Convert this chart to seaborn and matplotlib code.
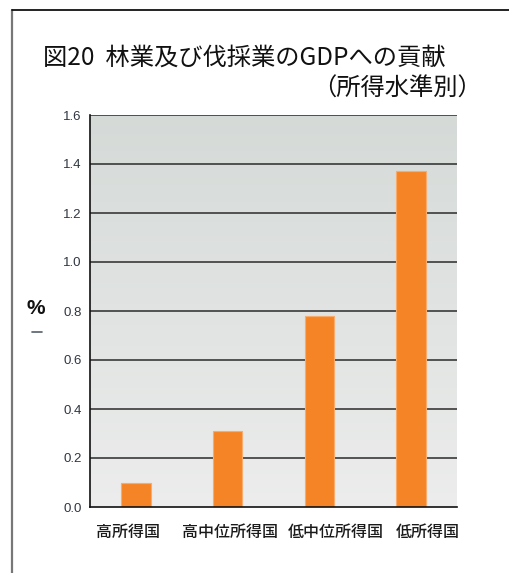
import numpy as np
import pandas as pd
import matplotlib
matplotlib.use("Agg")
import matplotlib.pyplot as plt
from matplotlib.lines import Line2D
from matplotlib.transforms import ScaledTranslation
import seaborn as sns

# Data: contribution of forestry and logging to GDP, by income group (%)
categories = ["高所得国", "高中位所得国", "低中位所得国", "低所得国"]
values = [0.10, 0.31, 0.78, 1.37]
yticks = [0.0, 0.2, 0.4, 0.6, 0.8, 1.0, 1.2, 1.4, 1.6]
title_line1 = "図20  林業及び伐採業のGDPへの貢献"
title_line2 = "（所得水準別）"
ylabel = "%"

sns.set_theme(style="white")
plt.rcParams["font.family"] = ["Noto Sans CJK JP", "DejaVu Sans"]

W, H = 509, 573
fig = plt.figure(figsize=(W / 100, H / 100), dpi=100)
fig.patch.set_facecolor("white")

ax = fig.add_axes([90 / W, 1 - 507 / H, 367 / W, 392 / H])

df = pd.DataFrame({"group": categories, "value": values})
sns.barplot(data=df, x="group", y="value", ax=ax, color="#f58426",
            saturation=1, width=0.32, edgecolor="#f9ab6c", linewidth=0.8,
            zorder=3)

# vertical gradient background of the plotting area
grad = np.linspace(0, 1, 256).reshape(-1, 1)
top_c = np.array([0.835, 0.855, 0.845])
bot_c = np.array([0.925, 0.928, 0.925])
img = top_c * (1 - grad[..., None]) + bot_c * grad[..., None]
img = img.reshape(256, 1, 3)
ax.imshow(img, extent=[0, 1, 0, 1], transform=ax.transAxes, aspect="auto",
          zorder=0)
ax.set_facecolor("none")

ax.set_ylim(0, 1.6)
ax.set_xlim(-0.5, len(categories) - 0.5)
ax.set_yticks(yticks)
ax.set_yticklabels([f"{t:.1f}" for t in yticks], fontfamily="Liberation Sans",
                   fontsize=9.5, color="#2f3640")
for t in yticks[1:]:
    ax.axhline(t, color="#2a2a2a", linewidth=1.1, zorder=1)

ax.tick_params(axis="x", length=0, pad=12, labelsize=11.5, labelcolor="#1a1a1a")
ax.tick_params(axis="y", length=0, pad=6)
# category labels sit spread across the axis rather than under each bar
label_shift_px = [-8, 2, 16, 17]
for lbl, dx in zip(ax.get_xticklabels(), label_shift_px):
    lbl.set_fontweight("medium")
    lbl.set_transform(lbl.get_transform() +
                      ScaledTranslation(dx / 100, 0, fig.dpi_scale_trans))
ax.set_xlabel("")
ax.set_ylabel("")
for side in ["top", "right"]:
    ax.spines[side].set_visible(False)
for side in ["left", "bottom"]:
    ax.spines[side].set_color("#111111")
    ax.spines[side].set_linewidth(1.2)
    ax.spines[side].set_zorder(4)

# unit label on the left
fig.text(36 / W, 1 - 308 / H, ylabel, fontsize=15, fontweight="bold",
         ha="center", va="center", color="#111111",
         fontfamily="Liberation Sans")
fig.add_artist(Line2D([32 / W, 42 / W], [1 - 332 / H, 1 - 332 / H],
                      transform=fig.transFigure, color="#55606a",
                      linewidth=1.2))

# titles
fig.text(43 / W, 1 - 58 / H, title_line1, fontsize=17.5, ha="left",
         va="center", color="#111111")
fig.text(482 / W, 1 - 89 / H, title_line2, fontsize=17.5, ha="right",
         va="center", color="#111111")

# page frame
fig.add_artist(Line2D([12 / W, 12 / W], [0, 1 - 10 / H],
                      transform=fig.transFigure, color="#777777",
                      linewidth=1.6))
fig.add_artist(Line2D([12 / W, 1], [1 - 10 / H, 1 - 10 / H],
                      transform=fig.transFigure, color="#111111",
                      linewidth=1.3))

fig.savefig("out.png", dpi=100)
